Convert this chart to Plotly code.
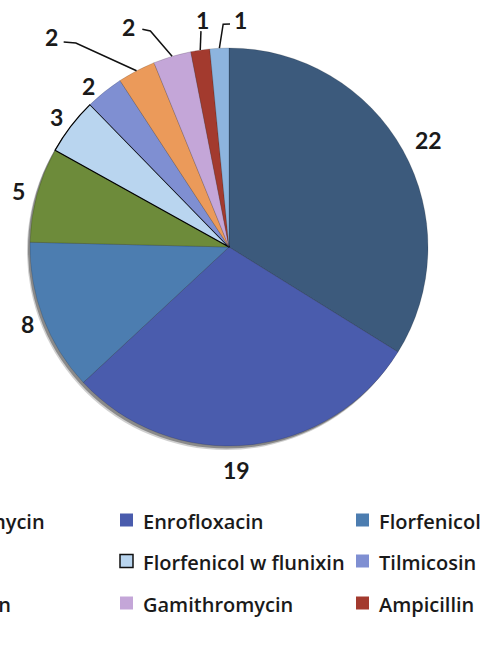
import math
import plotly.graph_objects as go

# ---- data ----
drugs = ["Tulathromycin", "Enrofloxacin", "Florfenicol", "Ceftiofur",
         "Florfenicol w flunixin", "Tilmicosin", "Penicillin",
         "Gamithromycin", "Ampicillin", "Other"]
counts = [22, 19, 8, 5, 3, 2, 2, 2, 1, 1]
colors = ["#3c5a7c", "#4a5cad", "#4c7db0", "#6d8b3a", "#b9d5ef",
          "#7f8fd2", "#eb9a5a", "#c4a6d8", "#a33a2e", "#8db4de"]

W, H = 482, 659
CX, CY, R = 229, 247, 199

def to_paper(px, py):
    return px / W, 1 - py / H

def polar(angle_deg, rfac):
    a = math.radians(angle_deg)
    return CX + rfac * R * math.sin(a), CY - rfac * R * math.cos(a)

total = sum(counts)
mids = []
cum = 0
for c in counts:
    mids.append((cum + c / 2) / total * 360)
    cum += c

border_colors = ["rgba(0,0,0,0.25)"] * len(counts)
border_widths = [0.6] * len(counts)
border_colors[4] = "#000000"
border_widths[4] = 1.3

x0, y1 = to_paper(CX - R, CY - R)
x1, y0 = to_paper(CX + R, CY + R)

fig = go.Figure(go.Pie(
    labels=drugs, values=counts, sort=False, direction="clockwise",
    rotation=0, textinfo="none", hoverinfo="label+value",
    marker=dict(colors=colors, line=dict(color=border_colors, width=border_widths)),
    domain=dict(x=[x0, x1], y=[y0, y1]), showlegend=False,
))

# soft shadow behind the pie
for dx, dy, col in [(-3, 4, "rgba(120,120,120,0.35)"), (-2, 2.5, "rgba(80,80,80,0.55)")]:
    sx0, sy1 = to_paper(CX - R + dx, CY - R + dy)
    sx1, sy0 = to_paper(CX + R + dx, CY + R + dy)
    fig.add_shape(type="circle", xref="paper", yref="paper", x0=sx0, x1=sx1, y0=sy0, y1=sy1,
                  fillcolor=col, line=dict(width=0), layer="below")

# ---- value labels ----
label_offset = [0.6, 3.6, 0.2, -0.1, -0.2, -2.2, -12.3, -7.9, 1.6, 5.55]
label_rad = [1.143, 1.118, 1.08, 1.095, 1.09, 1.075, 1.384, 1.22, 1.153, 1.146]
for i, c in enumerate(counts):
    px, py = polar(mids[i] + label_offset[i], label_rad[i])
    x, y = to_paper(px, py + 1)
    fig.add_annotation(x=x, y=y, xref="paper", yref="paper", text=f"<b>{c}</b>", showarrow=False,
                       xanchor="center", yanchor="middle",
                       font=dict(family="Lato", size=23, color="#1a1a1a"))

# leader lines: list of (angle, radius factor) points, ending at slice edge
leaders = {
    6: [(321.1, 1.323), (323.1, 1.282)],
    7: [(338.3, 1.178), (340.0, 1.155)],
    8: [(352.6, 1.094)],
    9: [(0.26, 1.12), (358.5, 1.12)],
}
for i, pts in leaders.items():
    pts = pts + [(mids[i], 1.0)]
    path = ""
    for k, (a, r) in enumerate(pts):
        x, y = to_paper(*polar(a, r))
        path += ("M" if k == 0 else " L") + f"{x:.5f},{y:.5f}"
    fig.add_shape(type="path", xref="paper", yref="paper", path=path,
                  line=dict(color="#111111", width=1.5))

# ---- legend (3 columns, row-major) ----
col_sq_x = [-116, 120, 356]
row_y = [520, 561, 603, 644]
SQ = 13
# first column is cropped at the left edge of the picture
right_anchor = {0: 47, 6: 13}
for i, name in enumerate(drugs):
    row, col = divmod(i, 3)
    sx = col_sq_x[col]
    sy = row_y[row]
    ax0, ay1 = to_paper(sx, sy - SQ / 2)
    ax1, ay0 = to_paper(sx + SQ, sy + SQ / 2)
    fig.add_shape(type="rect", xref="paper", yref="paper", x0=ax0, x1=ax1, y0=ay0, y1=ay1,
                  fillcolor=colors[i],
                  line=dict(color="#111111" if i == 4 else colors[i], width=1.5 if i == 4 else 0))
    if i in right_anchor:
        tx, ty = to_paper(right_anchor[i], sy + 1)
        xa = "right"
    else:
        tx, ty = to_paper(sx + 21, sy + 1)
        xa = "left"
    fig.add_annotation(x=tx, y=ty, xref="paper", yref="paper", text=name, showarrow=False,
                       xanchor=xa, yanchor="middle",
                       font=dict(family="Open Sans", size=20, weight=600, color="#1a1a1a"))

fig.update_layout(width=W, height=H, margin=dict(l=0, r=0, t=0, b=0, autoexpand=False),
                  paper_bgcolor="white", plot_bgcolor="white")
fig.write_html("out.html", config={"displayModeBar": False},
               post_script="document.body.style.margin='0px';")
